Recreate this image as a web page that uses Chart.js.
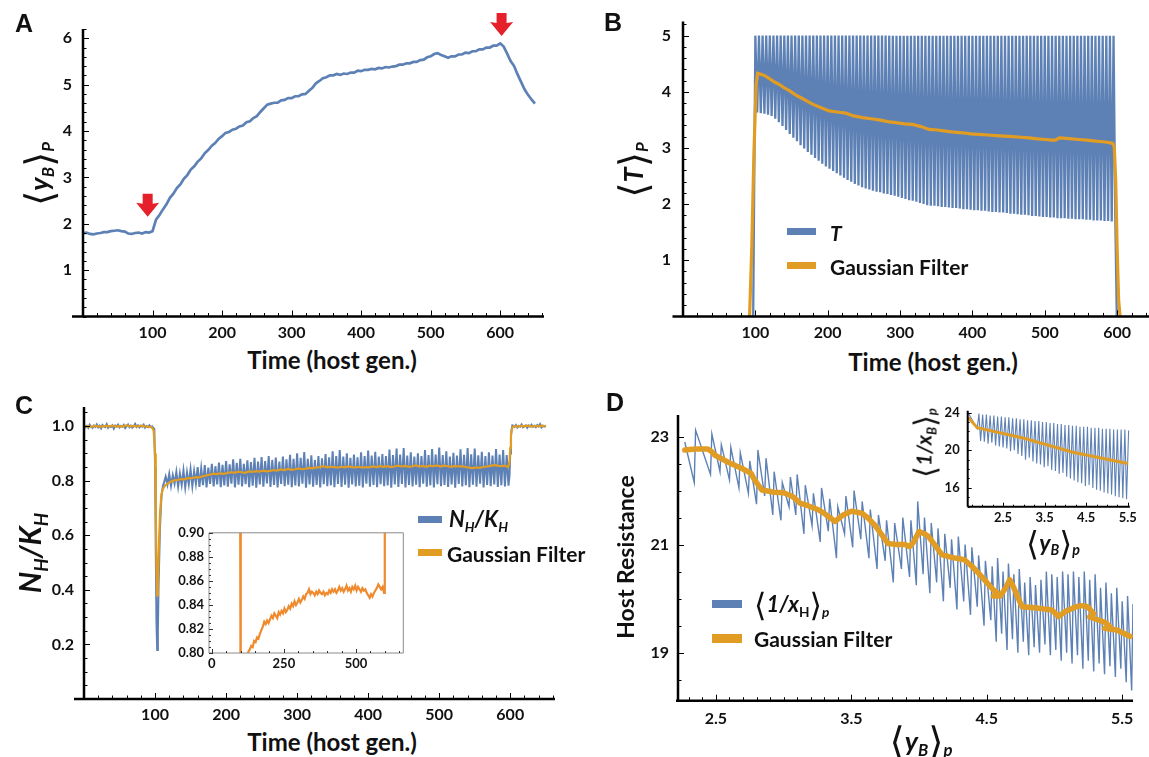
<!DOCTYPE html>
<html>
<head>
<meta charset="utf-8">
<title>Host–parasite time series</title>
<script src="https://cdn.jsdelivr.net/npm/chart.js@4.4.1/dist/chart.umd.min.js"></script>
<style>
  html, body { margin: 0; padding: 0; background: #fff; }
  #fig { position: relative; width: 1149px; height: 757px; overflow: hidden; background: #fff; }
  canvas { position: absolute; }
  .t { position: absolute; transform: translate(-50%, -50%); white-space: nowrap; color: #111;
       font-family: Lato, "Open Sans", sans-serif; font-weight: bold; line-height: 1; }
  .rot { transform: translate(-50%, -50%) rotate(-90deg); }
  .panel { font-family: "Liberation Sans", Arial, sans-serif; font-size: 25px; }
  .axt { font-size: 24px; }
  .lg { position: absolute; transform: translateY(-50%); white-space: nowrap; color: #111;
        font-family: Lato, sans-serif; font-weight: bold; font-size: 21px; line-height: 1; }
  .sw { position: absolute; }
  .ab { font-family: "DejaVu Sans", sans-serif; font-weight: normal; font-size: 1.45em; vertical-align: -0.12em; line-height: 0; }
  sub { font-size: 0.62em; vertical-align: -0.35em; line-height: 0; }
</style>
</head>
<body>
<div id="fig">
  <!-- A -->
  <canvas id="chartA" width="560" height="345" style="left:0;top:0"></canvas>
  <div class="t panel" style="left:24px;top:23px">A</div>
  <div class="t axt" style="left:332px;top:360px">Time (host gen.)</div>
  <div class="t rot" style="left:38px;top:174px;font-size:27px"><span class="ab">⟨</span><i>y</i><sub><i>B</i></sub><span class="ab">⟩</span><sub><i>P</i></sub></div>

  <!-- B -->
  <canvas id="chartB" width="569" height="345" style="left:580px;top:0"></canvas>
  <div class="t panel" style="left:613px;top:22px">B</div>
  <div class="t axt" style="left:933px;top:362px">Time (host gen.)</div>
  <div class="t rot" style="left:632px;top:170px;font-size:27px"><span class="ab">⟨</span><i>T</i><span class="ab">⟩</span><sub><i>P</i></sub></div>
  <div class="sw" style="left:787px;top:228px;width:29px;height:7px;background:#5E81B5"></div>
  <div class="lg" style="left:830px;top:232px"><i>T</i></div>
  <div class="sw" style="left:787px;top:262px;width:29px;height:7px;background:#E19C24"></div>
  <div class="lg" style="left:830px;top:266px">Gaussian Filter</div>

  <!-- C -->
  <canvas id="chartC" width="570" height="345" style="left:0;top:380px"></canvas>
  <canvas id="chartCin" width="260" height="160" style="left:150px;top:520px"></canvas>
  <div class="t panel" style="left:24px;top:405px">C</div>
  <div class="t axt" style="left:332px;top:742px">Time (host gen.)</div>
  <div class="t rot" style="left:29px;top:553px;font-size:30px"><i>N</i><sub><i>H</i></sub><i>/K</i><sub><i>H</i></sub></div>
  <div class="sw" style="left:418px;top:516px;width:24px;height:7px;background:#5E81B5"></div>
  <div class="lg" style="left:449px;top:519px;font-size:22px"><i>N</i><sub><i>H</i></sub><i>/K</i><sub><i>H</i></sub></div>
  <div class="sw" style="left:418px;top:549px;width:24px;height:7px;background:#E19C24"></div>
  <div class="lg" style="left:447px;top:553px">Gaussian Filter</div>

  <!-- D -->
  <canvas id="chartD" width="569" height="345" style="left:580px;top:380px"></canvas>
  <canvas id="chartDin" width="260" height="135" style="left:880px;top:395px"></canvas>
  <div class="t panel" style="left:615px;top:402px">D</div>
  <div class="t rot" style="left:625px;top:557px;font-size:23px">Host Resistance</div>
  <div class="t" style="left:921px;top:740px;font-size:27px"><span class="ab">⟨</span><i>y</i><sub><i>B</i></sub><span class="ab">⟩</span><sub><i>p</i></sub></div>
  <div class="t rot" style="left:923px;top:443px;font-size:21px"><span class="ab">⟨</span><i>1/x</i><sub><i>B</i></sub><span class="ab">⟩</span><sub><i>p</i></sub></div>
  <div class="t" style="left:1053px;top:542px;font-size:23px"><span class="ab">⟨</span><i>y</i><sub><i>B</i></sub><span class="ab">⟩</span><sub><i>p</i></sub></div>
  <div class="sw" style="left:712px;top:600px;width:30px;height:8px;background:#5E81B5"></div>
  <div class="lg" style="left:754px;top:604px;font-size:22px"><span class="ab">⟨</span><i>1/x</i><sub>H</sub><span class="ab">⟩</span><sub><i>p</i></sub></div>
  <div class="sw" style="left:712px;top:634px;width:30px;height:9px;background:#E19C24"></div>
  <div class="lg" style="left:754px;top:638px">Gaussian Filter</div>
</div>

<script>
const blue = "#5E81B5";
const orange = "#E19C24";
const insetOrange = "#EF8A2E";

// ---- A: mean virulence trait, sampled every 5 host generations from 0
const A_genStep = 5;
const A_val = [
  1.80, 1.81, 1.78, 1.77, 1.79, 1.80, 1.82, 1.82, 1.84, 1.85,
  1.86, 1.84, 1.83, 1.79, 1.78, 1.80, 1.81, 1.79, 1.82, 1.81,
  1.84, 2.09, 2.19, 2.31, 2.42, 2.56, 2.65, 2.77, 2.85, 2.97,
  3.05, 3.17, 3.24, 3.34, 3.41, 3.52, 3.59, 3.68, 3.74, 3.83,
  3.89, 3.96, 3.98, 4.03, 4.05, 4.10, 4.12, 4.19, 4.21, 4.28,
  4.32, 4.41, 4.49, 4.57, 4.59, 4.61, 4.61, 4.66, 4.67, 4.71,
  4.71, 4.75, 4.75, 4.79, 4.80, 4.87, 4.93, 5.03, 5.08, 5.14,
  5.16, 5.20, 5.20, 5.23, 5.21, 5.24, 5.23, 5.26, 5.26, 5.30,
  5.29, 5.32, 5.32, 5.34, 5.33, 5.36, 5.35, 5.38, 5.37, 5.39,
  5.40, 5.43, 5.43, 5.46, 5.46, 5.49, 5.49, 5.53, 5.54, 5.59,
  5.61, 5.66, 5.68, 5.64, 5.61, 5.58, 5.61, 5.61, 5.65, 5.65,
  5.69, 5.68, 5.72, 5.72, 5.76, 5.76, 5.80, 5.80, 5.84, 5.84,
  5.89, 5.82, 5.67, 5.51, 5.40, 5.22, 5.06, 4.90, 4.78, 4.68,
  4.59,
];
const A_markGen = [93, 602];
const A_markVal = [2.15, 6.05];
const A_xTicks = [100, 200, 300, 400, 500, 600];
const A_yTicks = [1, 2, 3, 4, 5, 6];

// ---- B: T switches between full dose and troughs every 5 generations
const B_onGen = 97;
const B_offGen = 599.5;
const B_firstPeak = 100;
const B_period = 5;
const B_peakValue = 5;
const B_troughs = [
  3.63, 3.62, 3.61, 3.59, 3.57, 3.52, 3.46, 3.39, 3.32, 3.25,
  3.18, 3.12, 3.05, 2.99, 2.93, 2.88, 2.82, 2.77, 2.72, 2.67,
  2.63, 2.59, 2.55, 2.51, 2.47, 2.43, 2.40, 2.36, 2.33, 2.30,
  2.28, 2.26, 2.24, 2.22, 2.21, 2.19, 2.18, 2.16, 2.15, 2.13,
  2.11, 2.09, 2.07, 2.06, 2.04, 2.02, 2.00, 1.98, 1.97, 1.97,
  1.96, 1.95, 1.95, 1.94, 1.93, 1.93, 1.92, 1.91, 1.91, 1.90,
  1.89, 1.89, 1.88, 1.88, 1.87, 1.86, 1.86, 1.85, 1.85, 1.84,
  1.83, 1.83, 1.82, 1.81, 1.81, 1.80, 1.79, 1.79, 1.78, 1.77,
  1.77, 1.76, 1.76, 1.75, 1.75, 1.75, 1.74, 1.74, 1.73, 1.73,
  1.73, 1.72, 1.72, 1.71, 1.71, 1.71, 1.70, 1.70, 1.69, 1.69,
];
const B_filterGen = [
  92, 95, 98, 101, 103, 108, 114, 120, 127, 133,
  140, 147, 156, 165, 172, 179, 190, 202, 213, 225,
  236, 248, 260, 271, 283, 294, 306, 317, 329, 340,
  352, 363, 375, 386, 398, 409, 421, 432, 444, 455,
  467, 478, 490, 501, 510, 515, 520, 530, 547, 558,
  570, 581, 591, 594, 596, 598, 600, 602, 604,
];
const B_filterVal = [
  0, 1.2, 2.9, 4.1, 4.33, 4.31, 4.28, 4.23, 4.17, 4.13,
  4.07, 4.02, 3.94, 3.88, 3.83, 3.78, 3.72, 3.66, 3.64, 3.62,
  3.57, 3.54, 3.52, 3.50, 3.47, 3.45, 3.43, 3.42, 3.38, 3.33,
  3.32, 3.30, 3.28, 3.27, 3.25, 3.24, 3.23, 3.22, 3.21, 3.20,
  3.19, 3.18, 3.16, 3.15, 3.14, 3.14, 3.18, 3.17, 3.15, 3.14,
  3.12, 3.11, 3.09, 3.08, 3.02, 2.4, 1.2, 0.3, 0,
];
const B_xTicks = [100, 200, 300, 400, 500, 600];
const B_yTicks = [1, 2, 3, 4, 5];

// ---- C: host density relative to carrying capacity
const C_pre = [ // generations 0..98, every 2
  1.003, 0.996, 1.001, 0.994, 1.005, 0.998, 0.993, 1.002, 0.997, 1.006,
  0.995, 1.001, 0.992, 1.004, 0.999, 0.996, 1.007, 0.994, 1.000, 0.997,
  1.003, 0.991, 1.002, 0.998, 1.005, 0.995, 1.001, 0.997, 1.004, 0.993,
  1.000, 1.006, 0.996, 1.002, 0.994, 0.999, 1.008, 0.997, 1.003, 0.995,
  1.001, 0.998, 1.005, 0.994, 1.000, 0.996, 1.003, 0.997, 0.999, 0.992,
];
const C_dropGen = [99, 100, 101, 102, 103, 104, 105, 107, 109, 111];
const C_dropVal = [0.99, 0.85, 0.55, 0.28, 0.18, 0.25, 0.42, 0.63, 0.74, 0.78];
const C_trough = [ // at 112.5 + 5k
  0.792, 0.786, 0.781, 0.789, 0.778, 0.785, 0.776, 0.787, 0.780, 0.790,
  0.777, 0.784, 0.775, 0.788, 0.779, 0.786, 0.776, 0.783, 0.778, 0.789,
  0.775, 0.785, 0.779, 0.787, 0.776, 0.782, 0.774, 0.786, 0.778, 0.790,
  0.777, 0.784, 0.775, 0.788, 0.780, 0.785, 0.776, 0.783, 0.779, 0.789,
  0.774, 0.786, 0.778, 0.784, 0.775, 0.787, 0.780, 0.783, 0.776, 0.788,
  0.777, 0.785, 0.774, 0.786, 0.779, 0.782, 0.775, 0.789, 0.778, 0.784,
  0.776, 0.787, 0.780, 0.783, 0.774, 0.786, 0.777, 0.788, 0.775, 0.784,
  0.779, 0.785, 0.776, 0.789, 0.778, 0.783, 0.775, 0.787, 0.780, 0.784,
  0.777, 0.786, 0.774, 0.788, 0.779, 0.783, 0.776, 0.785, 0.778, 0.789,
  0.775, 0.784, 0.780, 0.786, 0.777, 0.783, 0.779, 0.782,
];
const C_peak = [ // at 115 + 5k
  0.815, 0.825, 0.820, 0.832, 0.826, 0.838, 0.830, 0.842, 0.835, 0.850,
  0.845, 0.857, 0.848, 0.862, 0.853, 0.866, 0.858, 0.872, 0.860, 0.878,
  0.865, 0.880, 0.862, 0.875, 0.868, 0.884, 0.870, 0.887, 0.872, 0.890,
  0.876, 0.885, 0.870, 0.888, 0.878, 0.895, 0.880, 0.900, 0.884, 0.905,
  0.880, 0.893, 0.876, 0.890, 0.882, 0.898, 0.886, 0.908, 0.890, 0.912,
  0.888, 0.900, 0.884, 0.896, 0.886, 0.904, 0.890, 0.910, 0.892, 0.906,
  0.888, 0.898, 0.890, 0.914, 0.894, 0.918, 0.896, 0.920, 0.892, 0.904,
  0.888, 0.900, 0.890, 0.912, 0.894, 0.916, 0.896, 0.921, 0.894, 0.908,
  0.888, 0.902, 0.892, 0.915, 0.895, 0.920, 0.897, 0.918, 0.893, 0.906,
  0.890, 0.904, 0.892, 0.916, 0.896, 0.912, 0.894,
];
const C_recoverGen = [599, 600, 601, 602, 603];
const C_recoverVal = [0.82, 0.90, 0.96, 0.99, 1.003];
const C_post = [ // generations 604..650, every 2
  1.002, 0.997, 1.004, 0.995, 1.001, 0.998, 1.006, 0.996, 1.000, 1.003,
  0.994, 1.002, 0.998, 1.005, 0.997, 1.001, 0.996, 1.004, 0.999, 1.007,
  0.995, 1.001, 0.998, 1.002,
];
const C_filterGen = [
  0, 5, 10, 15, 20, 25, 30, 35, 40, 45, 50, 55, 60, 65, 70, 75, 80, 85, 90, 95,
  98, 100, 101, 102, 103, 104, 105, 107, 109, 111, 114, 118, 122,
  127, 132, 137, 142, 147, 152, 157, 162, 167, 172, 177, 182, 187, 192, 197,
  202, 207, 212, 217, 222, 227, 232, 237, 242, 247, 252, 257, 262, 267, 272,
  277, 282, 287, 292, 297, 302, 307, 312, 317, 322, 327, 332, 337, 342, 347,
  352, 357, 362, 367, 372, 377, 382, 387, 392, 397, 402, 407, 412, 417, 422,
  427, 432, 437, 442, 447, 452, 457, 462, 467, 472, 477, 482, 487, 492, 497,
  502, 507, 512, 517, 522, 527, 532, 537, 542, 547, 552, 557, 562, 567, 572,
  577, 582, 587, 592, 595, 597, 599, 600, 601, 603, 605,
  610, 615, 620, 625, 630, 635, 640, 645, 650,
];
const C_filterVal = [
  0.998, 1.000, 0.997, 1.001, 0.999, 0.998, 1.001, 0.999, 1.002, 0.998,
  1.000, 0.999, 1.003, 0.999, 1.001, 0.998, 1.002, 0.999, 0.998, 0.996,
  0.985, 0.90, 0.70, 0.48, 0.38, 0.42, 0.52, 0.68, 0.75, 0.77, 0.782, 0.790, 0.796,
  0.801, 0.803, 0.806, 0.805, 0.810, 0.809, 0.813, 0.812, 0.816, 0.819, 0.822, 0.826, 0.824, 0.827, 0.825,
  0.828, 0.831, 0.829, 0.833, 0.831, 0.829, 0.834, 0.832, 0.835, 0.833, 0.837, 0.834, 0.836, 0.839, 0.837,
  0.841, 0.839, 0.843, 0.840, 0.842, 0.845, 0.842, 0.844, 0.847, 0.845, 0.849, 0.850, 0.853, 0.849, 0.851,
  0.850, 0.848, 0.851, 0.849, 0.852, 0.850, 0.849, 0.851, 0.848, 0.850, 0.849, 0.852, 0.850, 0.853, 0.851,
  0.853, 0.850, 0.852, 0.855, 0.852, 0.854, 0.851, 0.853, 0.856, 0.852, 0.854, 0.851, 0.855, 0.853, 0.856,
  0.852, 0.855, 0.853, 0.851, 0.854, 0.852, 0.853, 0.850, 0.848, 0.846, 0.849, 0.847, 0.850, 0.852, 0.854,
  0.857, 0.855, 0.853, 0.855, 0.852, 0.850, 0.870, 0.92, 0.97, 0.995, 1.000,
  0.998, 1.001, 0.999, 1.002, 0.998, 1.001, 0.999, 1.002, 0.999,
];
const C_xTicks = [100, 200, 300, 400, 500, 600];
const C_yTicks = [0.2, 0.4, 0.6, 0.8, 1.0];
const Cin_xTicks = [0, 250, 500];
const Cin_yTicks = [0.80, 0.82, 0.84, 0.86, 0.88, 0.90];

// ---- D: host resistance against mean parasite trait
const D_blueX = [
  2.27, 2.34, 2.35, 2.46, 2.47, 2.53, 2.54, 2.60, 2.61, 2.67, 2.68, 2.74, 2.75, 2.80,
  2.81, 2.86, 2.87, 2.92, 2.93, 2.98, 2.99, 3.04, 3.05, 3.09, 3.10, 3.15, 3.16, 3.21,
  3.22, 3.27, 3.28, 3.33, 3.34, 3.39, 3.40, 3.45, 3.46, 3.51, 3.52, 3.57, 3.58, 3.63,
  3.64, 3.69, 3.70, 3.75, 3.76, 3.81, 3.82, 3.87, 3.88, 3.93,
  3.94, 3.98, 3.99, 4.03, 4.04, 4.08, 4.09, 4.13, 4.14, 4.18, 4.19, 4.23,
  4.24, 4.28, 4.29, 4.33, 4.34, 4.38, 4.39, 4.43, 4.44, 4.48, 4.49, 4.53,
  4.54, 4.57, 4.58, 4.61, 4.62, 4.65, 4.66, 4.69, 4.70, 4.73, 4.74, 4.77, 4.78, 4.81,
  4.82, 4.85, 4.86, 4.89, 4.90, 4.93, 4.94, 4.97, 4.98, 5.01, 5.02, 5.05, 5.06, 5.09,
  5.10, 5.13, 5.14, 5.17, 5.18, 5.21, 5.22, 5.25, 5.26, 5.29, 5.30, 5.33, 5.34, 5.37,
  5.38, 5.41, 5.42, 5.45, 5.46, 5.49, 5.50, 5.53, 5.54, 5.57, 5.58,
];
const D_blueY = [
  22.90, 22.15, 23.12, 22.30, 23.05, 22.35, 22.85, 22.20, 22.80, 22.05, 22.70, 21.95, 22.55, 21.75,
  22.75, 21.90, 22.60, 21.55, 22.35, 21.45, 22.15, 21.70, 22.25, 21.55, 22.30, 21.20, 22.10, 21.35,
  21.95, 21.05, 22.05, 21.25, 21.85, 20.75, 21.70, 21.20, 21.90, 20.95, 22.00, 21.10, 21.80, 20.75,
  21.65, 20.55, 21.55, 20.70, 21.45, 20.30, 21.40, 20.55, 21.50, 20.40,
  21.45, 20.25, 21.80, 20.45, 21.50, 20.10, 21.40, 20.30, 21.30, 19.95, 21.20, 20.20,
  21.10, 19.80, 21.15, 19.95, 21.00, 19.70, 20.95, 19.85, 20.80, 19.50, 20.70, 19.60,
  20.60, 19.20, 20.75, 19.35, 20.50, 19.05, 20.65, 19.25, 20.45, 19.00, 20.55, 19.20, 20.30, 18.95,
  20.40, 19.10, 20.25, 19.00, 20.35, 19.15, 20.50, 18.95, 20.45, 19.05, 20.40, 18.85, 20.50, 19.00,
  20.45, 18.80, 20.50, 18.95, 20.40, 18.70, 20.50, 18.85, 20.35, 18.65, 20.45, 18.80, 20.20, 18.60,
  20.30, 18.75, 20.10, 18.55, 20.20, 18.70, 19.95, 18.45, 20.05, 18.30, 19.90,
];
const D_filterX = [
  2.27, 2.35, 2.44, 2.47, 2.49, 2.61, 2.70, 2.76, 2.78, 2.84, 2.93, 3.00, 3.06, 3.10,
  3.12, 3.18, 3.26, 3.30, 3.34, 3.38, 3.44, 3.50, 3.58, 3.62, 3.67, 3.72, 3.77, 3.84,
  3.90, 3.93, 3.96, 4.00, 4.04, 4.07, 4.12, 4.17, 4.25, 4.335, 4.39, 4.44, 4.50, 4.55,
  4.58, 4.55, 4.60, 4.64, 4.67, 4.70, 4.76, 4.85, 4.92, 4.98, 5.03, 5.08, 5.16, 5.20,
  5.245, 5.29, 5.26, 5.33, 5.38, 5.41, 5.37, 5.46, 5.51, 5.56,
];
const D_filterY = [
  22.75, 22.77, 22.77, 22.72, 22.66, 22.50, 22.40, 22.32, 22.22, 22.01, 21.97, 21.96, 21.90, 21.82,
  21.77, 21.72, 21.64, 21.58, 21.50, 21.43, 21.55, 21.62, 21.58, 21.50, 21.37, 21.20, 21.02, 21.00,
  21.00, 20.96, 21.05, 21.24, 21.20, 21.15, 20.98, 20.81, 20.76, 20.72, 20.60, 20.47, 20.30, 20.16,
  20.10, 20.05, 20.05, 20.20, 20.35, 20.20, 19.85, 19.83, 19.81, 19.79, 19.67, 19.76, 19.85, 19.87,
  19.85, 19.72, 19.66, 19.60, 19.55, 19.48, 19.45, 19.42, 19.36, 19.30,
];
const D_xTicks = [2.5, 3.5, 4.5, 5.5];
const D_yTicks = [19, 21, 23];

// ---- D inset: mean 1/x_B against the same trait
const Din_blueX = [
  1.66, 1.88,
  1.92, 1.96, 2.01, 2.05, 2.10, 2.14, 2.19, 2.23, 2.28, 2.32, 2.37, 2.41, 2.46, 2.50,
  2.55, 2.59, 2.64, 2.68, 2.73, 2.77, 2.82, 2.86, 2.91, 2.95, 3.00, 3.04, 3.09, 3.13,
  3.18, 3.22, 3.27, 3.31, 3.36, 3.40, 3.45, 3.49, 3.54, 3.58, 3.63, 3.67, 3.72, 3.76,
  3.81, 3.85, 3.90, 3.94, 3.99, 4.03, 4.08, 4.12, 4.17, 4.21, 4.26, 4.30, 4.35, 4.39,
  4.44, 4.48, 4.53, 4.57, 4.62, 4.66, 4.71, 4.75, 4.80, 4.84, 4.89, 4.93, 4.98, 5.02,
  5.07, 5.11, 5.16, 5.20, 5.25, 5.29, 5.34, 5.38, 5.43, 5.47, 5.52,
];
const Din_blueY = [
  24.0, 22.3,
  23.9, 21.0, 23.8, 20.9, 23.8, 20.7, 23.7, 20.8, 23.7, 20.5, 23.6, 20.4, 23.6, 20.3,
  23.5, 20.2, 23.5, 19.9, 23.4, 20.0, 23.4, 19.6, 23.3, 19.4, 23.3, 19.0, 23.2, 19.2,
  23.2, 18.8, 23.1, 18.6, 23.1, 18.5, 23.0, 18.2, 23.0, 18.3, 22.9, 17.9, 22.9, 17.8,
  22.8, 17.5, 22.8, 17.6, 22.7, 17.2, 22.7, 17.0, 22.6, 16.8, 22.6, 16.6, 22.5, 16.5,
  22.5, 16.2, 22.5, 16.3, 22.4, 16.0, 22.4, 15.8, 22.4, 15.7, 22.3, 15.5, 22.3, 15.4,
  22.3, 15.3, 22.2, 15.1, 22.2, 15.0, 22.2, 14.9, 22.2, 14.8, 22.1,
];
const Din_filterX = [1.66, 1.88, 2.98, 4.18, 5.50];
const Din_filterY = [23.5, 22.4, 21.3, 19.8, 18.6];
const Din_xTicks = [2.5, 3.5, 4.5, 5.5];
const Din_yTicks = [16, 20, 24];

// ---------------------------------------------------------------------------

const toPoints = (xs, ys) => xs.map((x, i) => ({ x: x, y: ys[i] }));

// chart.js paints dataset 0 last, so the filtered curve goes first to sit on top
const line = (data, color, width, extra) =>
  Object.assign(
    { data: data, borderColor: color, borderWidth: width, pointRadius: 0, fill: false, tension: 0 },
    extra || {}
  );

// Mathematica-like axes: thick lines, ticks pointing into the plot
const frameAxes = {
  id: "frameAxes",
  afterDraw(chart, args, o) {
    if (!o || !o.xMajor) return;
    const ctx = chart.ctx;
    const a = chart.chartArea;
    const sx = chart.scales.x;
    const sy = chart.scales.y;
    ctx.save();
    ctx.strokeStyle = o.color;
    ctx.lineWidth = o.width;
    ctx.beginPath();
    if (o.box) {
      ctx.rect(a.left, a.top, a.right - a.left, a.bottom - a.top);
    } else {
      ctx.moveTo(a.left, a.top);
      ctx.lineTo(a.left, a.bottom);
      ctx.moveTo(a.left - o.xLeft, a.bottom);
      ctx.lineTo(a.right, a.bottom);
    }
    ctx.stroke();

    ctx.strokeStyle = o.tickColor || o.color;
    ctx.lineWidth = 1;
    ctx.beginPath();
    const marks = (scale, step, majors, isX) => {
      const first = Math.ceil(scale.min / step - 1e-6);
      for (let k = first; k * step <= scale.max + 1e-6; k++) {
        const v = k * step;
        const major = majors.some((m) => Math.abs(m - v) < step / 10);
        const len = major ? o.majorLen : o.minorLen;
        const p = Math.round(scale.getPixelForValue(v)) + 0.5;
        if (isX) {
          ctx.moveTo(p, a.bottom);
          ctx.lineTo(p, a.bottom - len);
        } else {
          ctx.moveTo(a.left, p);
          ctx.lineTo(a.left + len, p);
        }
      }
    };
    marks(sx, o.xStep, o.xMajor, true);
    marks(sy, o.yStep, o.yMajor, false);
    ctx.stroke();
    ctx.restore();
  },
};
Chart.register(frameAxes);

// red arrows marking when treatment starts and stops
const markArrows = {
  id: "markArrows",
  afterDatasetsDraw(chart) {
    const ctx = chart.ctx;
    ctx.save();
    ctx.fillStyle = "#E5202A";
    A_markGen.forEach((g, i) => {
      const px = chart.scales.x.getPixelForValue(g);
      const py = chart.scales.y.getPixelForValue(A_markVal[i]);
      ctx.beginPath();
      ctx.moveTo(px - 5, py - 23);
      ctx.lineTo(px + 5, py - 23);
      ctx.lineTo(px + 5, py - 13);
      ctx.lineTo(px + 11.5, py - 14);
      ctx.lineTo(px, py);
      ctx.lineTo(px - 11.5, py - 14);
      ctx.lineTo(px - 5, py - 13);
      ctx.closePath();
      ctx.fill();
    });
    ctx.restore();
  },
};

const axis = (a, which) => ({
  type: "linear",
  min: a.min,
  max: a.max,
  grid: { display: false, drawTicks: false },
  border: { display: false },
  afterBuildTicks: (s) => {
    s.ticks = a.labels.map((v) => ({ value: v }));
  },
  afterFit: (s) => {
    if (which === "x") s.height = a.size;
    else s.width = a.size;
  },
  ticks: {
    autoSkip: false,
    maxRotation: 0,
    padding: a.pad,
    color: "#111",
    font: { family: "Lato", weight: "bold", size: a.font },
    callback: (v) => Number(v).toFixed(a.digits),
  },
});

const makeChart = (id, cfg) =>
  new Chart(document.getElementById(id), {
    type: "line",
    data: { datasets: cfg.datasets },
    options: {
      responsive: false,
      maintainAspectRatio: false,
      animation: false,
      events: [],
      layout: { autoPadding: false, padding: cfg.padding },
      plugins: {
        legend: { display: false },
        tooltip: { enabled: false },
        frameAxes: cfg.frame,
      },
      scales: { x: axis(cfg.x, "x"), y: axis(cfg.y, "y") },
    },
    plugins: cfg.plugins || [],
  });

// ---- A
makeChart("chartA", {
  datasets: [line(A_val.map((v, i) => ({ x: i * A_genStep, y: v })), blue, 2.7)],
  padding: { left: 0, top: 29, right: 16, bottom: 0 },
  x: { min: 0, max: 663, labels: A_xTicks, size: 28.5, pad: 7, font: 16, digits: 0 },
  y: { min: 0, max: 6.2, labels: A_yTicks, size: 83, pad: 11, font: 16, digits: 0 },
  frame: { color: "#000", width: 2.5, xLeft: 11, majorLen: 6, minorLen: 3.5,
           xMajor: A_xTicks, xStep: 20, yMajor: A_yTicks, yStep: 0.2 },
  plugins: [markArrows],
});

// ---- B
const B_points = [{ x: B_onGen, y: 0 }];
B_troughs.forEach((t, i) => {
  B_points.push({ x: B_firstPeak + i * B_period, y: B_peakValue });
  B_points.push({ x: B_firstPeak + i * B_period + B_period / 2, y: t });
});
B_points.push({ x: B_offGen, y: 0 });

makeChart("chartB", {
  datasets: [
    line(toPoints(B_filterGen, B_filterVal), orange, 3.2),
    line(B_points, blue, 2.3),
  ],
  padding: { left: 0, top: 20, right: 0, bottom: 0 },
  x: { min: 0, max: 644, labels: B_xTicks, size: 28.6, pad: 7, font: 16, digits: 0 },
  y: { min: 0, max: 5.25, labels: B_yTicks, size: 103, pad: 12, font: 16, digits: 0 },
  frame: { color: "#000", width: 2.5, xLeft: 10.5, majorLen: 6, minorLen: 3.5,
           xMajor: B_xTicks, xStep: 20, yMajor: B_yTicks, yStep: 0.2 },
});

// ---- C
const C_points = [];
C_pre.forEach((v, i) => C_points.push({ x: i * 2, y: v }));
C_dropGen.forEach((g, i) => C_points.push({ x: g, y: C_dropVal[i] }));
C_trough.forEach((t, i) => {
  C_points.push({ x: 112.5 + i * 5, y: t });
  if (i < C_peak.length) C_points.push({ x: 115 + i * 5, y: C_peak[i] });
});
C_recoverGen.forEach((g, i) => C_points.push({ x: g, y: C_recoverVal[i] }));
C_post.forEach((v, i) => C_points.push({ x: 604 + i * 2, y: v }));
const C_filter = toPoints(C_filterGen, C_filterVal);

makeChart("chartC", {
  datasets: [line(C_filter, orange, 2.2), line(C_points, blue, 2)],
  padding: { left: 0, top: 27, right: 15, bottom: 0 },
  x: { min: 0, max: 663, labels: C_xTicks, size: 26, pad: 6, font: 16, digits: 0 },
  y: { min: 0, max: 1.07, labels: C_yTicks, size: 84, pad: 10, font: 16, digits: 1 },
  frame: { color: "#000", width: 2.5, xLeft: 10, majorLen: 6, minorLen: 3.5,
           xMajor: C_xTicks, xStep: 20, yMajor: C_yTicks, yStep: 0.05 },
});

makeChart("chartCin", {
  datasets: [line(C_filter, insetOrange, 2.2, { clip: 0 })],
  padding: { left: 0, top: 12, right: 6.7, bottom: 0 },
  x: { min: -9.4, max: 663.7, labels: Cin_xTicks, size: 27, pad: 3, font: 13, digits: 0 },
  y: { min: 0.8, max: 0.9, labels: Cin_yTicks, size: 59, pad: 5, font: 13, digits: 2 },
  frame: { box: true, color: "#8a8a8a", tickColor: "#333", width: 1, majorLen: 4, minorLen: 2,
           xMajor: Cin_xTicks, xStep: 50, yMajor: Cin_yTicks, yStep: 0.005 },
});

// ---- D
makeChart("chartD", {
  datasets: [
    line(toPoints(D_filterX, D_filterY), orange, 5.5, { borderJoinStyle: "round", borderCapStyle: "round" }),
    line(toPoints(D_blueX, D_blueY), blue, 1.4),
  ],
  padding: { left: 0, top: 35, right: 16, bottom: 0 },
  x: { min: 2.22, max: 5.58, labels: D_xTicks, size: 24.3, pad: 9, font: 16, digits: 1 },
  y: { min: 18.11, max: 23.4, labels: D_yTicks, size: 98, pad: 9, font: 16, digits: 0 },
  frame: { color: "#000", width: 2.5, xLeft: 2, majorLen: 6, minorLen: 3.5,
           xMajor: D_xTicks, xStep: 0.1, yMajor: D_yTicks, yStep: 0.5 },
});

makeChart("chartDin", {
  datasets: [
    line(toPoints(Din_filterX, Din_filterY), orange, 3),
    line(toPoints(Din_blueX, Din_blueY), blue, 1.1),
  ],
  padding: { left: 0, top: 10, right: 10, bottom: 0 },
  x: { min: 1.65, max: 5.55, labels: Din_xTicks, size: 23.3, pad: 3, font: 13, digits: 1 },
  y: { min: 14, max: 24.2, labels: Din_yTicks, size: 87.7, pad: 8, font: 13, digits: 0 },
  frame: { color: "#000", width: 2, xLeft: 0, majorLen: 4, minorLen: 2,
           xMajor: Din_xTicks, xStep: 0.25, yMajor: Din_yTicks, yStep: 1 },
});
</script>
</body>
</html>
